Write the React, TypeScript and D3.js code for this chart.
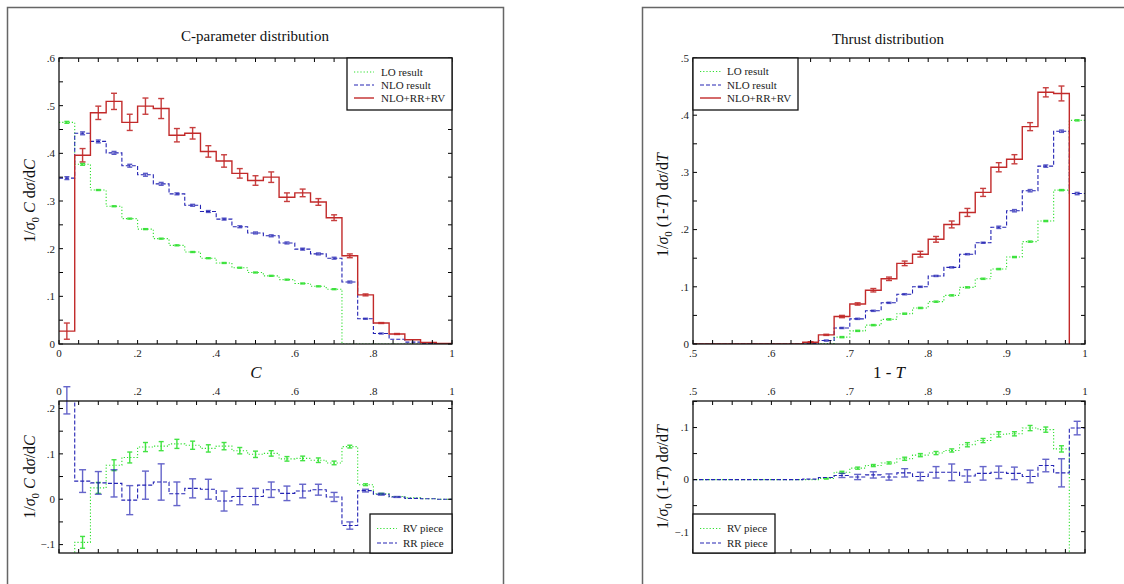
import React from 'react';
import * as d3 from 'd3';

// ---------- C-parameter data (bins of width 0.04) ----------
const cBinLo = [0, 0.04, 0.08, 0.12, 0.16, 0.2, 0.24, 0.28, 0.32, 0.36, 0.4, 0.44, 0.48, 0.52, 0.56, 0.6, 0.64, 0.68, 0.72, 0.76, 0.8, 0.84, 0.88, 0.92, 0.96];
const cBinWidth = 0.04;
const cLO = [0.465, 0.377, 0.323, 0.289, 0.263, 0.241, 0.221, 0.207, 0.193, 0.180, 0.170, 0.160, 0.150, 0.143, 0.135, 0.127, 0.121, 0.115, 0, 0, 0, 0, 0, 0, 0];
const cLOErr = [0.002, 0.002, 0.001, 0.001, 0.001, 0.001, 0.001, 0.001, 0.001, 0.001, 0.001, 0.001, 0.001, 0.001, 0.001, 0.001, 0.001, 0.001, 0, 0, 0, 0, 0, 0, 0];
const cNLO = [0.348, 0.442, 0.425, 0.401, 0.374, 0.355, 0.336, 0.315, 0.291, 0.278, 0.262, 0.246, 0.233, 0.227, 0.212, 0.199, 0.189, 0.180, 0.130, 0.053, 0.022, 0.010, 0.004, 0.001, 0.0];
const cNLOErr = [0.003, 0.003, 0.003, 0.003, 0.003, 0.003, 0.003, 0.002, 0.002, 0.002, 0.002, 0.002, 0.002, 0.002, 0.002, 0.002, 0.002, 0.002, 0.002, 0.001, 0.001, 0, 0, 0, 0];
const cFull = [0.027, 0.396, 0.485, 0.509, 0.465, 0.499, 0.494, 0.438, 0.442, 0.404, 0.384, 0.358, 0.343, 0.350, 0.308, 0.317, 0.298, 0.265, 0.185, 0.103, 0.044, 0.021, 0.009, 0.003, 0.001];
const cFullErr = [0.017, 0.014, 0.014, 0.017, 0.017, 0.017, 0.021, 0.014, 0.012, 0.012, 0.013, 0.010, 0.010, 0.011, 0.009, 0.008, 0.007, 0.006, 0.004, 0.002, 0.001, 0.001, 0, 0, 0];
const cRV = [-0.4, -0.095, 0.025, 0.075, 0.092, 0.115, 0.117, 0.122, 0.119, 0.112, 0.117, 0.107, 0.099, 0.101, 0.089, 0.090, 0.086, 0.080, 0.116, 0.032, 0.012, 0.006, 0.003, 0.001, 0.0];
const cRVErr = [0, 0.013, 0.012, 0.012, 0.012, 0.010, 0.010, 0.010, 0.009, 0.008, 0.008, 0.007, 0.007, 0.006, 0.005, 0.005, 0.005, 0.004, 0.003, 0.002, 0.001, 0, 0, 0, 0];
const cRR = [0.218, 0.040, 0.036, 0.035, -0.002, 0.031, 0.038, 0.012, 0.024, 0.022, -0.004, 0.006, 0.006, 0.021, 0.013, 0.018, 0.021, 0.005, -0.058, 0.019, 0.011, 0.005, 0.002, 0.001, 0.0];
const cRRErr = [0.030, 0.025, 0.025, 0.030, 0.032, 0.031, 0.040, 0.026, 0.021, 0.022, 0.022, 0.018, 0.018, 0.017, 0.016, 0.015, 0.012, 0.010, 0.008, 0.003, 0.002, 0.001, 0, 0, 0];

// ---------- Thrust data (bins of width 0.02) ----------
const tBinLo = [0.5, 0.52, 0.54, 0.56, 0.58, 0.6, 0.62, 0.64, 0.66, 0.68, 0.7, 0.72, 0.74, 0.76, 0.78, 0.8, 0.82, 0.84, 0.86, 0.88, 0.9, 0.92, 0.94, 0.96, 0.98];
const tBinWidth = 0.02;
const tLO = [0, 0, 0, 0, 0, 0, 0, 0, 0.001, 0.012, 0.023, 0.033, 0.043, 0.053, 0.063, 0.074, 0.085, 0.099, 0.114, 0.131, 0.152, 0.179, 0.215, 0.269, 0.391];
const tLOErr = [0, 0, 0, 0, 0, 0, 0, 0, 0, 0.001, 0.001, 0.001, 0.001, 0.001, 0.001, 0.001, 0.001, 0.001, 0.001, 0.001, 0.001, 0.001, 0.001, 0.001, 0.001];
const tNLO = [0, 0, 0, 0, 0, 0, 0, 0.001, 0.006, 0.028, 0.044, 0.058, 0.072, 0.087, 0.100, 0.119, 0.134, 0.157, 0.177, 0.204, 0.233, 0.268, 0.311, 0.372, 0.263];
const tNLOErr = [0, 0, 0, 0, 0, 0, 0, 0, 0.001, 0.001, 0.001, 0.001, 0.001, 0.001, 0.001, 0.001, 0.001, 0.001, 0.001, 0.002, 0.002, 0.002, 0.002, 0.002, 0.002];
const tFull = [0, 0, 0, 0, 0, 0, 0, 0.003, 0.016, 0.048, 0.070, 0.094, 0.114, 0.141, 0.157, 0.183, 0.209, 0.230, 0.265, 0.309, 0.323, 0.380, 0.440, 0.438, -0.6];
const tFullErr = [0, 0, 0, 0, 0, 0, 0, 0.001, 0.001, 0.002, 0.002, 0.003, 0.003, 0.004, 0.005, 0.005, 0.006, 0.007, 0.007, 0.008, 0.008, 0.007, 0.008, 0.013, 0];
const tRV = [0, 0, 0, 0, 0, 0, 0, 0, 0.002, 0.014, 0.022, 0.027, 0.032, 0.040, 0.047, 0.051, 0.056, 0.067, 0.075, 0.087, 0.088, 0.099, 0.096, 0.059, -0.5];
const tRVErr = [0, 0, 0, 0, 0, 0, 0, 0, 0.001, 0.002, 0.002, 0.002, 0.002, 0.003, 0.003, 0.003, 0.003, 0.004, 0.004, 0.005, 0.004, 0.005, 0.005, 0.006, 0];
const tRR = [0, 0, 0, 0, 0, 0, 0, 0.001, 0.004, 0.008, 0.005, 0.009, 0.005, 0.013, 0.006, 0.014, 0.014, 0.007, 0.012, 0.014, 0.012, 0.006, 0.027, 0.013, 0.099];
const tRRErr = [0, 0, 0, 0, 0, 0, 0, 0, 0, 0.004, 0.005, 0.006, 0.006, 0.008, 0.008, 0.011, 0.016, 0.012, 0.013, 0.012, 0.012, 0.012, 0.012, 0.027, 0.013];

// ---------- tick labels ----------
const cXTickLabels = [0, 0.2, 0.4, 0.6, 0.8, 1];
const tXTickLabels = [0.5, 0.6, 0.7, 0.8, 0.9, 1];
const cTopYTickLabels = [0, 0.1, 0.2, 0.3, 0.4, 0.5, 0.6];
const tTopYTickLabels = [0, 0.1, 0.2, 0.3, 0.4, 0.5];
const cBotYTickLabels = [-0.1, 0, 0.1, 0.2];
const tBotYTickLabels = [-0.1, 0, 0.1];

const topLegend = ['LO result', 'NLO result', 'NLO+RR+RV'];
const botLegend = ['RV piece', 'RR piece'];

const GREEN = '#2fe02f';
const BLUE = '#2424b4';
const RED = '#c22a2a';
const FONT = '"Liberation Serif", "Times New Roman", serif';

type Ser = { vals: number[]; errs: number[]; color: string; dash: string; width: number; barOpacity: number; cap: number };

function fmt(v: number): string {
  if (Math.abs(v) < 1e-9) return '0';
  if (Math.abs(v - 1) < 1e-9) return '1';
  const s = d3.format('.1f')(v);
  return s.replace('0.', '.');
}

type PanelProps = {
  id: string;
  x0: number; x1: number; y0: number; y1: number;
  xDomain: [number, number]; yDomain: [number, number];
  xLabels: number[]; xMinor: number;
  yLabels: number[]; yMinor: number;
  labelsOnTop: boolean;
  binLo: number[]; binW: number;
  series: Ser[];
  legend: { names: string[]; x: number; y: number; w: number; h: number; lineX0: number; lineX1: number; textX: number; rows: number[] };
  yLabelPos: [number, number];
  yLabelVar: 'C' | 'T';
  yTickX: number;
};

function Panel(p: PanelProps) {
  const x = d3.scaleLinear().domain(p.xDomain).range([p.x0, p.x1]);
  const y = d3.scaleLinear().domain(p.yDomain).range([p.y1, p.y0]);
  const line = d3.line<[number, number]>().x(d => x(d[0])).y(d => y(d[1])).curve(d3.curveStepAfter);
  const xMinorTicks = d3.range(p.xDomain[0], p.xDomain[1] + 1e-9, p.xMinor);
  const yStart = Math.ceil(p.yDomain[0] / p.yMinor - 1e-9) * p.yMinor;
  const yMinorTicks = d3.range(yStart, p.yDomain[1] + 1e-9, p.yMinor);
  const tl = 4;
  return (
    <g>
      <defs>
        <clipPath id={p.id}>
          <rect x={p.x0} y={p.y0} width={p.x1 - p.x0} height={p.y1 - p.y0} />
        </clipPath>
      </defs>
      {p.series.map((s, si) => {
        const pts: [number, number][] = s.vals.map((v, i) => [p.binLo[i], v] as [number, number]);
        pts.push([p.binLo[p.binLo.length - 1] + p.binW, s.vals[s.vals.length - 1]]);
        return (
          <g key={si}>
            <path clipPath={`url(#${p.id})`} d={line(pts) || ''} fill="none" stroke={s.color} strokeWidth={s.width} strokeDasharray={s.dash} />
            {s.vals.map((v, i) => {
              const e = s.errs[i];
              if (!e) return null;
              const cx = x(p.binLo[i] + p.binW / 2);
              return (
                <g key={i} stroke={s.color} strokeWidth={1.4} opacity={s.barOpacity}>
                  <line x1={cx} x2={cx} y1={y(v - e)} y2={y(v + e)} />
                  <line x1={cx - s.cap} x2={cx + s.cap} y1={y(v - e)} y2={y(v - e)} />
                  <line x1={cx - s.cap} x2={cx + s.cap} y1={y(v + e)} y2={y(v + e)} />
                </g>
              );
            })}
          </g>
        );
      })}
      {/* ticks */}
      <g stroke="#000" strokeWidth={1}>
        {xMinorTicks.map((t, i) => (
          <g key={'x' + i}>
            <line x1={x(t)} x2={x(t)} y1={p.y1} y2={p.y1 - tl} />
            <line x1={x(t)} x2={x(t)} y1={p.y0} y2={p.y0 + tl} />
          </g>
        ))}
        {yMinorTicks.map((t, i) => (
          <g key={'y' + i}>
            <line x1={p.x0} x2={p.x0 + tl} y1={y(t)} y2={y(t)} />
            <line x1={p.x1} x2={p.x1 - tl} y1={y(t)} y2={y(t)} />
          </g>
        ))}
      </g>
      <rect x={p.x0} y={p.y0} width={p.x1 - p.x0} height={p.y1 - p.y0} fill="none" stroke="#111" strokeWidth={1.3} />
      {/* tick labels */}
      <g fontFamily={FONT} fontSize={11} fill="#222">
        {p.xLabels.map((t, i) => (
          <text key={'xl' + i} x={x(t)} y={p.labelsOnTop ? p.y0 - 6 : p.y1 + 13} textAnchor="middle">{fmt(t)}</text>
        ))}
        {p.yLabels.map((t, i) => (
          <text key={'yl' + i} x={p.yTickX} y={y(t)} dy="0.35em" textAnchor="end">{fmt(t)}</text>
        ))}
      </g>
      {/* y axis title */}
      <text transform={`translate(${p.yLabelPos[0]},${p.yLabelPos[1]}) rotate(-90)`} textAnchor="middle" fontFamily={FONT} fontSize={16} fill="#111">
        1/<tspan fontStyle="italic">σ</tspan><tspan fontSize={11} dy={4}>0</tspan>
        <tspan dy={-4}>{p.yLabelVar === 'C' ? '  ' : '  (1-'}</tspan>
        <tspan fontStyle="italic">{p.yLabelVar}</tspan>
        <tspan>{p.yLabelVar === 'C' ? ' d' : ') d'}</tspan>
        <tspan fontStyle="italic">σ</tspan>
        <tspan>/d</tspan>
        <tspan fontStyle="italic">{p.yLabelVar}</tspan>
      </text>
      {/* legend */}
      <g>
        <rect x={p.legend.x} y={p.legend.y} width={p.legend.w} height={p.legend.h} fill="#fff" stroke="#111" strokeWidth={1.3} />
        {p.legend.names.map((n, i) => {
          const s = p.series[i];
          const ry = p.legend.rows[i];
          return (
            <g key={n}>
              <line x1={p.legend.lineX0} x2={p.legend.lineX1} y1={ry} y2={ry} stroke={s.color} strokeWidth={s.width} strokeDasharray={s.dash} />
              <text x={p.legend.textX} y={ry} dy="0.35em" fontFamily={FONT} fontSize={11} fill="#222">{n}</text>
            </g>
          );
        })}
      </g>
    </g>
  );
}

export default function App() {
  const greenTop: Ser = { vals: cLO, errs: cLOErr, color: GREEN, dash: '1.2,2', width: 1.1, barOpacity: 0.9, cap: 2.5 };
  const blueTop: Ser = { vals: cNLO, errs: cNLOErr, color: BLUE, dash: '4,2', width: 1.1, barOpacity: 0.75, cap: 2.5 };
  const redTop: Ser = { vals: cFull, errs: cFullErr, color: RED, dash: '', width: 1.4, barOpacity: 0.9, cap: 3 };
  const greenBot: Ser = { vals: cRV, errs: cRVErr, color: GREEN, dash: '1.2,2', width: 1.1, barOpacity: 0.9, cap: 2.5 };
  const blueBot: Ser = { vals: cRR, errs: cRRErr, color: BLUE, dash: '4,2', width: 1.1, barOpacity: 0.7, cap: 3.5 };

  const tGreenTop: Ser = { vals: tLO, errs: tLOErr, color: GREEN, dash: '1.2,2', width: 1.1, barOpacity: 0.9, cap: 2.5 };
  const tBlueTop: Ser = { vals: tNLO, errs: tNLOErr, color: BLUE, dash: '4,2', width: 1.1, barOpacity: 0.75, cap: 2.5 };
  const tRedTop: Ser = { vals: tFull, errs: tFullErr, color: RED, dash: '', width: 1.4, barOpacity: 0.9, cap: 3 };
  const tGreenBot: Ser = { vals: tRV, errs: tRVErr, color: GREEN, dash: '1.2,2', width: 1.1, barOpacity: 0.9, cap: 2.5 };
  const tBlueBot: Ser = { vals: tRR, errs: tRRErr, color: BLUE, dash: '4,2', width: 1.1, barOpacity: 0.7, cap: 3.5 };

  const LX0 = 59, LX1 = 452, RX0 = 693, RX1 = 1085;
  const TOP0 = 58, TOP1 = 344, BOT0 = 401, BOT1 = 553;

  return (
    <svg width={1124} height={584} style={{ position: 'absolute', left: 0, top: 0, background: '#fff' }}>
      <rect x={0} y={0} width={1124} height={584} fill="#fff" />
      {/* outer frames */}
      <path d={`M7.5,590 V7.5 H503.5 V590`} fill="none" stroke="#666" strokeWidth={1.5} />
      <path d={`M642.5,590 V7.5 H1130`} fill="none" stroke="#666" strokeWidth={1.5} />

      <text x={255} y={41} textAnchor="middle" fontFamily={FONT} fontSize={15} fill="#111">C-parameter distribution</text>
      <text x={888} y={44} textAnchor="middle" fontFamily={FONT} fontSize={15} fill="#111">Thrust distribution</text>

      <Panel id="clipCT" x0={LX0} x1={LX1} y0={TOP0} y1={TOP1} xDomain={[0, 1]} yDomain={[0, 0.6]}
        xLabels={cXTickLabels} xMinor={0.05} yLabels={cTopYTickLabels} yMinor={0.05} labelsOnTop={false}
        binLo={cBinLo} binW={cBinWidth} series={[greenTop, blueTop, redTop]}
        legend={{ names: topLegend, x: 347, y: TOP0, w: LX1 - 347, h: 52, lineX0: 354, lineX1: 374, textX: 381, rows: [72, 85, 98] }}
        yLabelPos={[35, 201]} yLabelVar="C" yTickX={55} />
      <Panel id="clipCB" x0={LX0} x1={LX1} y0={BOT0} y1={BOT1} xDomain={[0, 1]} yDomain={[-0.1185, 0.2165]}
        xLabels={cXTickLabels} xMinor={0.05} yLabels={cBotYTickLabels} yMinor={0.05} labelsOnTop={true}
        binLo={cBinLo} binW={cBinWidth} series={[greenBot, blueBot]}
        legend={{ names: botLegend, x: 370, y: 514, w: LX1 - 370, h: BOT1 - 514, lineX0: 377, lineX1: 397, textX: 403, rows: [528.5, 543] }}
        yLabelPos={[35, 477]} yLabelVar="C" yTickX={55} />

      <text x={256} y={378} textAnchor="middle" fontFamily={FONT} fontSize={17} fontStyle="italic" fill="#111">C</text>
      <text x={889} y={378} textAnchor="middle" fontFamily={FONT} fontSize={17} fill="#111">1 - <tspan fontStyle="italic">T</tspan></text>

      <Panel id="clipTT" x0={RX0} x1={RX1} y0={TOP0} y1={TOP1} xDomain={[0.5, 1]} yDomain={[0, 0.5]}
        xLabels={tXTickLabels} xMinor={0.025} yLabels={tTopYTickLabels} yMinor={0.05} labelsOnTop={false}
        binLo={tBinLo} binW={tBinWidth} series={[tGreenTop, tBlueTop, tRedTop]}
        legend={{ names: topLegend, x: RX0, y: TOP0, w: 798 - RX0, h: 52, lineX0: 700, lineX1: 721, textX: 727, rows: [71.5, 85, 98] }}
        yLabelPos={[668, 205]} yLabelVar="T" yTickX={689} />
      <Panel id="clipTB" x0={RX0} x1={RX1} y0={BOT0} y1={BOT1} xDomain={[0.5, 1]} yDomain={[-0.141, 0.151]}
        xLabels={tXTickLabels} xMinor={0.025} yLabels={tBotYTickLabels} yMinor={0.05} labelsOnTop={true}
        binLo={tBinLo} binW={tBinWidth} series={[tGreenBot, tBlueBot]}
        legend={{ names: botLegend, x: RX0, y: 514, w: 775 - RX0, h: BOT1 - 514, lineX0: 700, lineX1: 721, textX: 727, rows: [528.5, 543] }}
        yLabelPos={[668, 477]} yLabelVar="T" yTickX={689} />
    </svg>
  );
}
